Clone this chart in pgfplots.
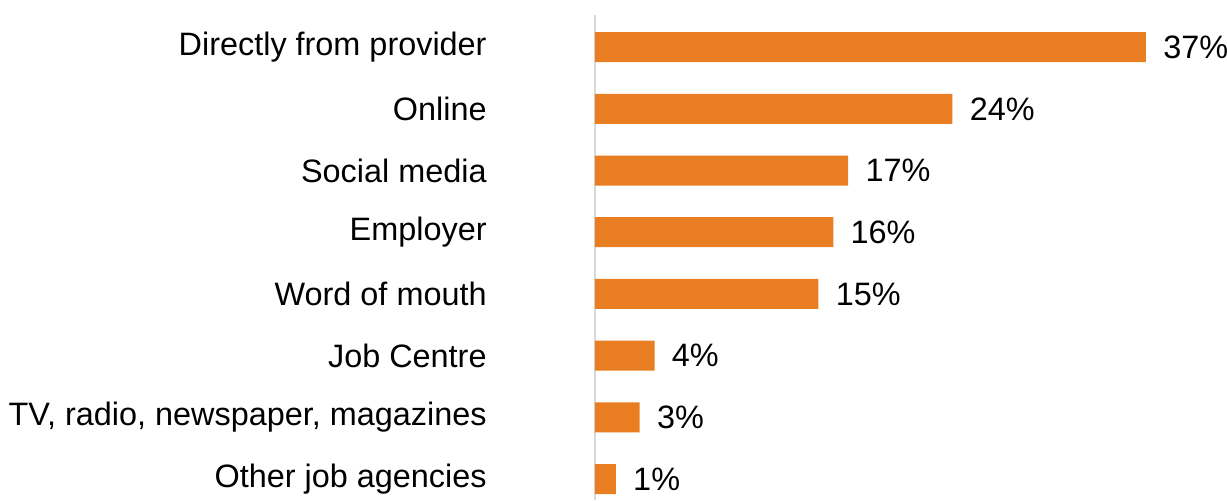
\documentclass[border=0pt]{standalone}
\usepackage{fontspec}
\setmainfont{Liberation Sans}
\usepackage{pgfplots}
\pgfplotsset{compat=1.18}
\definecolor{barorange}{RGB}{232,126,33}
\definecolor{axisgray}{RGB}{217,217,217}
\begin{document}
\begin{tikzpicture}
\useasboundingbox (-297.5pt,0) rectangle (316pt,250pt);
\begin{axis}[
  at={(0,0)}, anchor=south west,
  scale only axis, width=316pt, height=242.5pt,
  xbar, bar width=15pt,
  xmin=0, xmax=42.44,
  ymin=-0.52, ymax=7.34, y dir=reverse,
  ytick={0,...,7},
  yticklabels={Directly from provider, Online, Social media, Employer, Word of mouth, Job Centre, {TV, radio, newspaper, magazines}, Other job agencies},
  axis x line=none,
  axis y line*=left,
  y axis line style={draw=axisgray, line width=1pt, -},
  major tick length=0pt,
  xtick=\empty,
  yticklabel style={font=\fontsize{16.2}{19}\selectfont, anchor=east, inner sep=0pt, xshift=-54pt, text=black},
  point meta=x,
  nodes near coords={\pgfmathprintnumber[fixed,precision=0,assume math mode=true]{\pgfplotspointmeta}\%},
  nodes near coords style={font=\fontsize{16.2}{19}\selectfont, anchor=west, inner sep=0pt, xshift=8.5pt, text=black},
]
\addplot[fill=barorange, draw=none] coordinates {(37,0) (24,1) (17,2) (16,3) (15,4) (4,5) (3,6) (1.4,7)};
\end{axis}
\end{tikzpicture}
\end{document}
